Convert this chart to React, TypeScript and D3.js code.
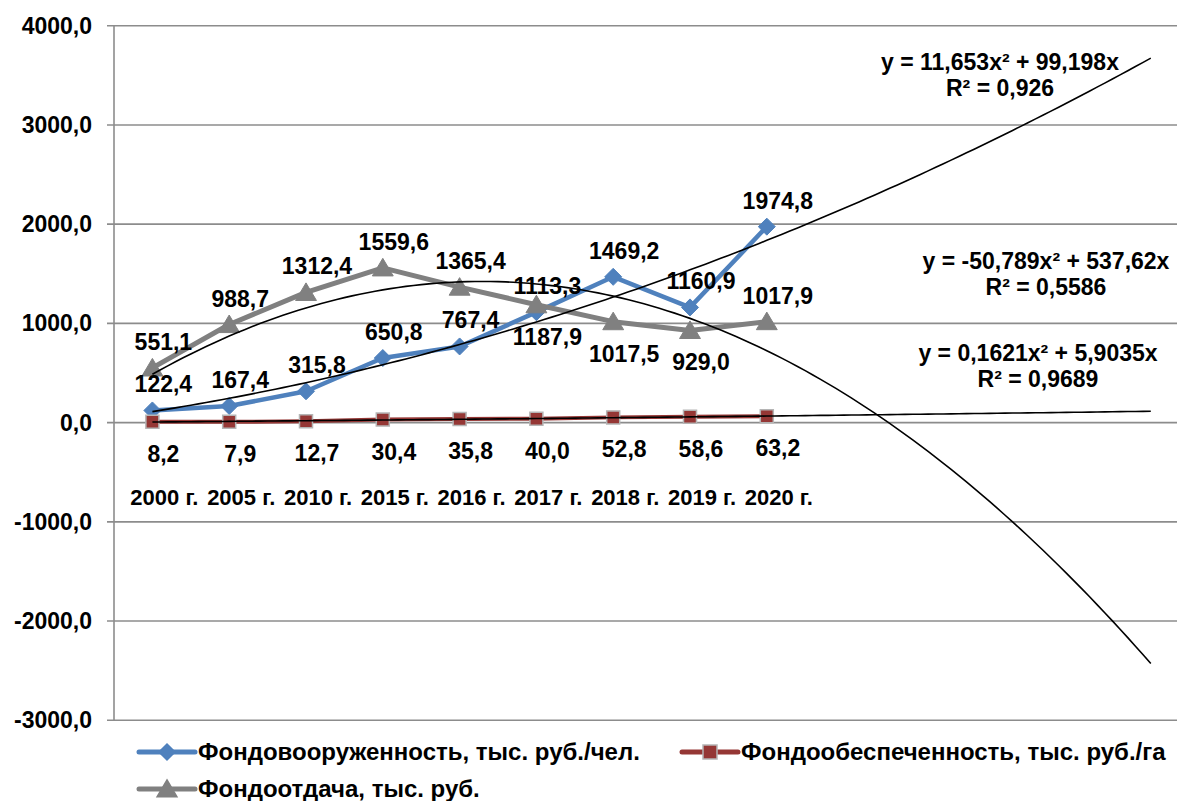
import React, { useEffect, useRef } from 'react';
import * as d3 from 'd3';

const years = ['2000 г.', '2005 г.', '2010 г.', '2015 г.', '2016 г.', '2017 г.', '2018 г.', '2019 г.', '2020 г.'];
const fondovoor = [122.4, 167.4, 315.8, 650.8, 767.4, 1113.3, 1469.2, 1160.9, 1974.8];
const fondoobesp = [8.2, 7.9, 12.7, 30.4, 35.8, 40.0, 52.8, 58.6, 63.2];
const fondootdacha = [551.1, 988.7, 1312.4, 1559.6, 1365.4, 1187.9, 1017.5, 929.0, 1017.9];
const yTicks = [4000, 3000, 2000, 1000, 0, -1000, -2000, -3000];

// polynomial trendlines (a*x^2 + b*x) as shown on the chart
const trends = [
  { a: 11.653, b: 99.198, eq: 'y = 11,653x² + 99,198x', r2: 'R² = 0,926', lx: 1000, ly: 62 },
  { a: -50.789, b: 537.62, eq: 'y = -50,789x² + 537,62x', r2: 'R² = 0,5586', lx: 1046, ly: 261 },
  { a: 0.1621, b: 5.9035, eq: 'y = 0,1621x² + 5,9035x', r2: 'R² = 0,9689', lx: 1038, ly: 353 },
];
const forecastEnd = 14;

const BLUE = '#4F81BD';
const RED = '#953735';
const GRAY = '#808080';
const FONT = '"Liberation Sans", Arial, sans-serif';

const fmt = (v: number) => v.toFixed(1).replace('.', ',');

const Chart: React.FC = () => {
  const svgRef = useRef<SVGSVGElement>(null);

  useEffect(() => {
    const svg = d3.select(svgRef.current);
    svg.selectAll('*').remove();

    const left = 114;
    const x = d3.scaleLinear().domain([1, forecastEnd]).range([152.4, 1150.8]);
    const y = d3.scaleLinear().domain([-3000, 4000]).range([720.3, 25.7]);

    // gridlines + ticks
    svg.append('g').selectAll('line').data(yTicks).enter().append('line')
      .attr('x1', left - 7).attr('x2', 1177)
      .attr('y1', d => y(d)).attr('y2', d => y(d))
      .attr('stroke', '#8c8c8c').attr('stroke-width', 1.6);

    svg.append('line')
      .attr('x1', left).attr('x2', left)
      .attr('y1', y(4000)).attr('y2', y(-3000))
      .attr('stroke', '#8c8c8c').attr('stroke-width', 1.6);

    svg.append('g').selectAll('text').data(yTicks).enter().append('text')
      .attr('x', 92).attr('y', d => y(d) + 8)
      .attr('text-anchor', 'end')
      .attr('font-family', FONT).attr('font-weight', 'bold').attr('font-size', 23)
      .text(d => fmt(d));

    // category labels
    svg.append('g').selectAll('text').data(years).enter().append('text')
      .attr('x', (d, i) => x(i + 1) + 12)
      .attr('y', 505)
      .attr('text-anchor', 'middle')
      .attr('font-family', FONT).attr('font-weight', 'bold').attr('font-size', 22)
      .text(d => d);

    const line = d3.line<number>().x((d, i) => x(i + 1)).y(d => y(d));

    const diamond = (r: number) => `M0,${-r}L${r},0L0,${r}L${-r},0Z`;
    const square = (r: number) => `M${-r},${-r}H${r}V${r}H${-r}Z`;
    const triangle = (r: number) => `M0,${-r}L${r * 1.1},${r * 0.85}L${-r * 1.1},${r * 0.85}Z`;

    const series = [
      { data: fondovoor, color: BLUE, width: 4.5, marker: diamond(8.5), mFill: BLUE, mStroke: BLUE, mw: 1 },
      { data: fondoobesp, color: RED, width: 4, marker: square(6.5), mFill: RED, mStroke: '#b5b5b5', mw: 1.5 },
      { data: fondootdacha, color: GRAY, width: 5, marker: triangle(9.5), mFill: GRAY, mStroke: GRAY, mw: 1 },
    ];

    series.forEach(s => {
      svg.append('path').datum(s.data)
        .attr('d', line)
        .attr('fill', 'none').attr('stroke', s.color).attr('stroke-width', s.width)
        .attr('stroke-linejoin', 'round');
      svg.append('g').selectAll('path').data(s.data).enter().append('path')
        .attr('transform', (d, i) => `translate(${x(i + 1)},${y(d)})`)
        .attr('d', s.marker)
        .attr('fill', s.mFill).attr('stroke', s.mStroke).attr('stroke-width', s.mw);
    });

    // data labels
    const grayBelow = new Set([5, 6, 7]);
    const addLabels = (data: number[], below: (i: number) => boolean) => {
      svg.append('g').selectAll('text').data(data).enter().append('text')
        .attr('x', (d, i) => x(i + 1) + 11)
        .attr('y', (d, i) => y(d) + (below(i) ? 32 : -26) + 8)
        .attr('text-anchor', 'middle')
        .attr('font-family', FONT).attr('font-weight', 'bold').attr('font-size', 23)
        .text(d => fmt(d));
    };
    addLabels(fondovoor, () => false);
    addLabels(fondoobesp, () => true);
    addLabels(fondootdacha, i => grayBelow.has(i));

    // trendlines
    const xs = d3.range(1, forecastEnd + 0.001, 0.1);
    trends.forEach(t => {
      svg.append('path').datum(xs)
        .attr('d', d3.line<number>().x(v => x(v)).y(v => y(t.a * v * v + t.b * v)))
        .attr('fill', 'none').attr('stroke', '#000').attr('stroke-width', 1.6);
      const g = svg.append('text')
        .attr('font-family', FONT).attr('font-weight', 'bold').attr('font-size', 23)
        .attr('text-anchor', 'middle');
      g.append('tspan').attr('x', t.lx).attr('y', t.ly + 8).text(t.eq);
      g.append('tspan').attr('x', t.lx).attr('y', t.ly + 34).text(t.r2);
    });

    // legend
    const legend = [
      { name: 'Фондовооруженность, тыс. руб./чел.', color: BLUE, marker: diamond(8), mStroke: BLUE, lx: 139, ly: 752 },
      { name: 'Фондообеспеченность, тыс. руб./га', color: RED, marker: square(7), mStroke: '#b5b5b5', lx: 682, ly: 752 },
      { name: 'Фондоотдача, тыс. руб.', color: GRAY, marker: triangle(9), mStroke: GRAY, lx: 139, ly: 789 },
    ];
    legend.forEach(l => {
      svg.append('line').attr('x1', l.lx).attr('x2', l.lx + 56)
        .attr('y1', l.ly).attr('y2', l.ly)
        .attr('stroke', l.color).attr('stroke-width', 5).attr('stroke-linecap', 'round');
      svg.append('path').attr('transform', `translate(${l.lx + 28},${l.ly})`)
        .attr('d', l.marker).attr('fill', l.color).attr('stroke', l.mStroke).attr('stroke-width', 1.5);
      svg.append('text').attr('x', l.lx + 59).attr('y', l.ly + 8)
        .attr('font-family', FONT).attr('font-weight', 'bold').attr('font-size', 24)
        .text(l.name);
    });
  }, []);

  return <svg ref={svgRef} width={1177} height={801} style={{ position: 'absolute', left: 0, top: 0, background: '#fff' }} />;
};

export default function App() {
  return <Chart />;
}
